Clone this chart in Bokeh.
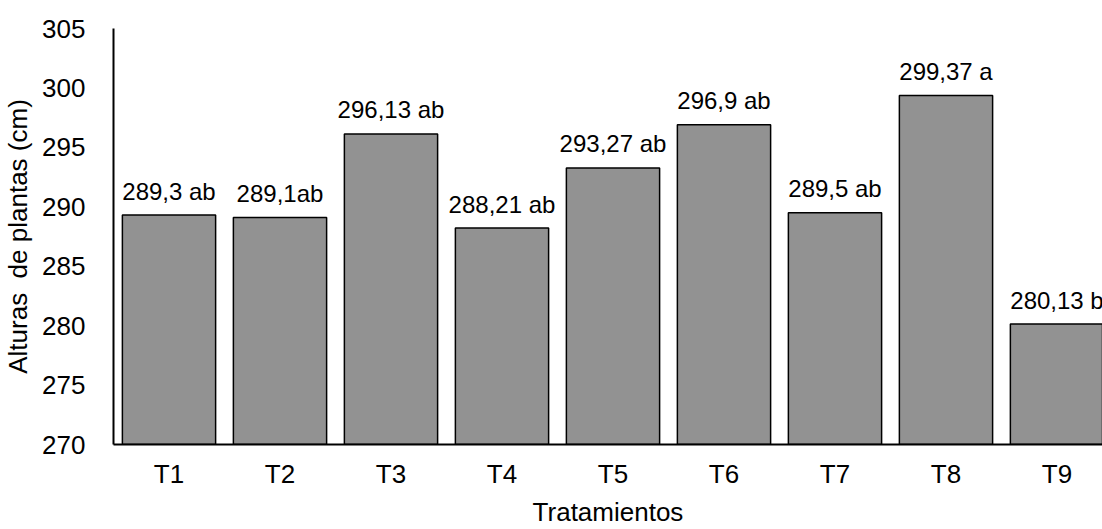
from bokeh.plotting import figure
from bokeh.models import Range1d, FixedTicker, ColumnDataSource
from bokeh.embed import file_html
from bokeh.resources import INLINE
from bokeh.core.properties import value

# Plant height per treatment (cm) with significance letters
tratamientos = ["T1", "T2", "T3", "T4", "T5", "T6", "T7", "T8", "T9"]
alturas = [289.3, 289.1, 296.13, 288.21, 293.27, 296.9, 289.5, 299.37, 280.13]
etiquetas = ["289,3 ab", "289,1ab", "296,13 ab", "288,21 ab", "293,27 ab",
             "296,9 ab", "289,5 ab", "299,37 a", "280,13 b"]
y_ticks = [270, 275, 280, 285, 290, 295, 300, 305]

pos = list(range(1, len(tratamientos) + 1))
src = ColumnDataSource(dict(x=pos, top=alturas, label=etiquetas))

FONT = "Liberation Sans"

p = figure(width=1102, height=529, output_backend="svg", toolbar_location=None,
           x_range=Range1d(0.5, 9.41), y_range=Range1d(270, 305),
           min_border_left=113, min_border_right=0, min_border_top=28,
           min_border_bottom=85)
p.outline_line_color = None
p.background_fill_color = "white"
p.border_fill_color = "white"
p.xgrid.visible = False
p.ygrid.visible = False

p.vbar(x="x", top="top", bottom=270, width=0.84, source=src,
       fill_color="#929292", line_color="black", line_width=1.5)

p.text(x="x", y="top", text="label", source=src,
       text_font=value(FONT), text_font_size="24px", text_color="black",
       text_align="center", text_baseline="alphabetic", y_offset=-24)

# y axis
p.yaxis.ticker = FixedTicker(ticks=y_ticks)
p.yaxis.axis_label = "Alturas\u00a0 de plantas (cm)"
p.yaxis.axis_label_text_font = FONT
p.yaxis.axis_label_text_font_style = "normal"
p.yaxis.axis_label_text_font_size = "26px"
p.yaxis.axis_label_text_color = "black"
p.yaxis.axis_label_standoff = 6
p.yaxis.major_label_text_font = FONT
p.yaxis.major_label_text_font_size = "26px"
p.yaxis.major_label_text_color = "black"
p.yaxis.major_label_standoff = 22
p.yaxis.major_tick_line_color = None
p.yaxis.minor_tick_line_color = None
p.yaxis.axis_line_color = "black"
p.yaxis.axis_line_width = 2

# x axis
p.xaxis.ticker = FixedTicker(ticks=pos)
p.xaxis.major_label_overrides = {i: t for i, t in zip(pos, tratamientos)}
p.xaxis.axis_label = "Tratamientos"
p.xaxis.axis_label_text_font = FONT
p.xaxis.axis_label_text_font_style = "normal"
p.xaxis.axis_label_text_font_size = "26px"
p.xaxis.axis_label_text_color = "black"
p.xaxis.axis_label_standoff = 5
p.xaxis.major_label_text_font = FONT
p.xaxis.major_label_text_font_size = "26px"
p.xaxis.major_label_text_color = "black"
p.xaxis.major_label_standoff = 8
p.xaxis.major_tick_line_color = None
p.xaxis.minor_tick_line_color = None
p.xaxis.axis_line_color = "black"
p.xaxis.axis_line_width = 2

open("out.html", "w").write(file_html(p, INLINE))
